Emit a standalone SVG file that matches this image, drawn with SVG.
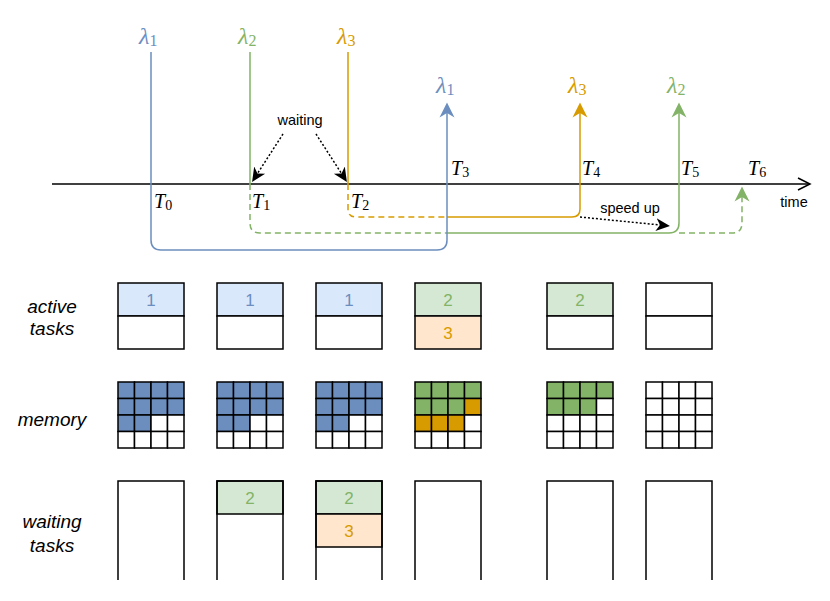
<svg xmlns="http://www.w3.org/2000/svg" width="830" height="601" viewBox="0 0 830 601">
<style>
.lam{font-family:"Liberation Serif",serif;font-style:italic;font-size:24px}
.sub{font-style:normal;font-size:16px}
.T{font-family:"Liberation Serif",serif;font-style:italic;font-size:20px;fill:#000}
.tsub{font-style:normal;font-size:14px}
.lbl{font-family:"Liberation Sans",Arial,sans-serif;font-size:14.5px;fill:#000}
.row{font-family:"Liberation Sans",Arial,sans-serif;font-style:italic;font-size:19px;fill:#000;text-anchor:middle}
.num{font-family:"Liberation Sans",Arial,sans-serif;font-size:17px;text-anchor:middle}
.box{stroke:#000;stroke-width:1.5}
.w{fill:#fff}
.b{fill:#6c8ebf}
.g{fill:#82b366}
.o{fill:#d79b00}
.lb{fill:#dae8fc}
.lg{fill:#d5e8d4}
.lo{fill:#ffe6cc}
.ln{fill:none;stroke-width:1.5}
.dash{stroke-dasharray:6 4}
.dot{stroke-dasharray:2 2;stroke:#000;fill:none;stroke-width:1.5}
</style>
<defs>
<marker id="aB" markerUnits="userSpaceOnUse" markerWidth="16" markerHeight="16" viewBox="0 0 16 16" refX="4.5" refY="8" orient="auto"><path d="M0,0.5 L15,8 L0,15.5 L4.5,8 Z" fill="#6c8ebf"/></marker>
<marker id="aG" markerUnits="userSpaceOnUse" markerWidth="16" markerHeight="16" viewBox="0 0 16 16" refX="4.5" refY="8" orient="auto"><path d="M0,0.5 L15,8 L0,15.5 L4.5,8 Z" fill="#82b366"/></marker>
<marker id="aO" markerUnits="userSpaceOnUse" markerWidth="16" markerHeight="16" viewBox="0 0 16 16" refX="4.5" refY="8" orient="auto"><path d="M0,0.5 L15,8 L0,15.5 L4.5,8 Z" fill="#d79b00"/></marker>
<marker id="aK" markerUnits="userSpaceOnUse" markerWidth="16" markerHeight="16" viewBox="0 0 16 16" refX="4" refY="8" orient="auto"><path d="M0,1.5 L14,8 L0,14.5 L4,8 Z" fill="#000"/></marker>
</defs>

<g id="connectors">
  <path d="M52,184 H809" class="ln" stroke="#000"/>
  <path d="M798,178 L810,184 L798,190" class="ln" stroke="#000"/>
  <path d="M348,52 V184" class="ln" stroke="#d79b00"/>
  <path d="M348,184 V209 Q348,217 356,217 H447" class="ln dash" stroke="#d79b00"/>
  <path d="M447,217 H572 Q580,217 580,209 V113" class="ln" stroke="#d79b00" marker-end="url(#aO)"/>
  <path d="M250,52 V184" class="ln" stroke="#82b366"/>
  <path d="M250,184 V223 Q250,233 260,233 H447" class="ln dash" stroke="#82b366"/>
  <path d="M447,233 H669 Q679,233 679,223 V113" class="ln" stroke="#82b366" marker-end="url(#aG)"/>
  <path d="M679,233 H732 Q742,233 742,223 V197" class="ln dash" stroke="#82b366" marker-end="url(#aG)"/>
  <path d="M151,52 V240 Q151,250 161,250 H437 Q447,250 447,240 V113" class="ln" stroke="#6c8ebf" marker-end="url(#aB)"/>
  <path d="M283,134 L257.5,173.5" class="dot" marker-end="url(#aK)"/>
  <path d="M316,134 L341.5,173.5" class="dot" marker-end="url(#aK)"/>
  <path d="M580,217 L660,225" class="dot" marker-end="url(#aK)"/>
</g>

<g id="labels-top">
  <text class="lam" x="139" y="44" fill="#6c8ebf">λ<tspan class="sub" dy="2">1</tspan></text>
  <text class="lam" x="238" y="44" fill="#82b366">λ<tspan class="sub" dy="2">2</tspan></text>
  <text class="lam" x="337" y="44" fill="#d79b00">λ<tspan class="sub" dy="2">3</tspan></text>
  <text class="lam" x="436" y="93" fill="#6c8ebf">λ<tspan class="sub" dy="2">1</tspan></text>
  <text class="lam" x="568" y="93" fill="#d79b00">λ<tspan class="sub" dy="2">3</tspan></text>
  <text class="lam" x="667" y="93" fill="#82b366">λ<tspan class="sub" dy="2">2</tspan></text>
  <text class="T" x="154" y="208">T<tspan class="tsub" dy="2">0</tspan></text>
  <text class="T" x="252" y="208">T<tspan class="tsub" dy="2">1</tspan></text>
  <text class="T" x="351" y="208">T<tspan class="tsub" dy="2">2</tspan></text>
  <text class="T" x="451" y="175">T<tspan class="tsub" dy="2">3</tspan></text>
  <text class="T" x="582" y="175">T<tspan class="tsub" dy="2">4</tspan></text>
  <text class="T" x="681" y="175">T<tspan class="tsub" dy="2">5</tspan></text>
  <text class="T" x="748" y="175">T<tspan class="tsub" dy="2">6</tspan></text>
  <text class="lbl" x="300" y="125" text-anchor="middle">waiting</text>
  <text class="lbl" x="630" y="213" text-anchor="middle">speed up</text>
  <text class="lbl" x="794" y="207" text-anchor="middle">time</text>
</g>

<g id="row-labels">
  <text class="row" x="52" y="313">active</text>
  <text class="row" x="52" y="335">tasks</text>
  <text class="row" x="52" y="426">memory</text>
  <text class="row" x="52" y="528">waiting</text>
  <text class="row" x="52" y="552">tasks</text>
</g>

<g id="active-1"><rect class="box lb" x="118" y="283" width="66" height="33"/><rect class="box w" x="118" y="316" width="66" height="33"/><text class="num" x="151" y="305.5" fill="#6c8ebf">1</text></g>
<g id="active-2"><rect class="box lb" x="217" y="283" width="66" height="33"/><rect class="box w" x="217" y="316" width="66" height="33"/><text class="num" x="250" y="305.5" fill="#6c8ebf">1</text></g>
<g id="active-3"><rect class="box lb" x="316" y="283" width="66" height="33"/><rect class="box w" x="316" y="316" width="66" height="33"/><text class="num" x="349" y="305.5" fill="#6c8ebf">1</text></g>
<g id="active-4"><rect class="box lg" x="415" y="283" width="66" height="33"/><rect class="box lo" x="415" y="316" width="66" height="33"/><text class="num" x="448" y="305.5" fill="#82b366">2</text><text class="num" x="448" y="338.5" fill="#d79b00">3</text></g>
<g id="active-5"><rect class="box lg" x="547" y="283" width="66" height="33"/><rect class="box w" x="547" y="316" width="66" height="33"/><text class="num" x="580" y="305.5" fill="#82b366">2</text></g>
<g id="active-6"><rect class="box w" x="646" y="283" width="66" height="33"/><rect class="box w" x="646" y="316" width="66" height="33"/></g>

<g id="memory-1">
  <rect class="box b" x="118" y="382" width="16.5" height="16.5"/><rect class="box b" x="134.5" y="382" width="16.5" height="16.5"/><rect class="box b" x="151" y="382" width="16.5" height="16.5"/><rect class="box b" x="167.5" y="382" width="16.5" height="16.5"/>
  <rect class="box b" x="118" y="398.5" width="16.5" height="16.5"/><rect class="box b" x="134.5" y="398.5" width="16.5" height="16.5"/><rect class="box b" x="151" y="398.5" width="16.5" height="16.5"/><rect class="box b" x="167.5" y="398.5" width="16.5" height="16.5"/>
  <rect class="box b" x="118" y="415" width="16.5" height="16.5"/><rect class="box b" x="134.5" y="415" width="16.5" height="16.5"/><rect class="box w" x="151" y="415" width="16.5" height="16.5"/><rect class="box w" x="167.5" y="415" width="16.5" height="16.5"/>
  <rect class="box w" x="118" y="431.5" width="16.5" height="16.5"/><rect class="box w" x="134.5" y="431.5" width="16.5" height="16.5"/><rect class="box w" x="151" y="431.5" width="16.5" height="16.5"/><rect class="box w" x="167.5" y="431.5" width="16.5" height="16.5"/>
</g>
<g id="memory-2">
  <rect class="box b" x="217" y="382" width="16.5" height="16.5"/><rect class="box b" x="233.5" y="382" width="16.5" height="16.5"/><rect class="box b" x="250" y="382" width="16.5" height="16.5"/><rect class="box b" x="266.5" y="382" width="16.5" height="16.5"/>
  <rect class="box b" x="217" y="398.5" width="16.5" height="16.5"/><rect class="box b" x="233.5" y="398.5" width="16.5" height="16.5"/><rect class="box b" x="250" y="398.5" width="16.5" height="16.5"/><rect class="box b" x="266.5" y="398.5" width="16.5" height="16.5"/>
  <rect class="box b" x="217" y="415" width="16.5" height="16.5"/><rect class="box b" x="233.5" y="415" width="16.5" height="16.5"/><rect class="box w" x="250" y="415" width="16.5" height="16.5"/><rect class="box w" x="266.5" y="415" width="16.5" height="16.5"/>
  <rect class="box w" x="217" y="431.5" width="16.5" height="16.5"/><rect class="box w" x="233.5" y="431.5" width="16.5" height="16.5"/><rect class="box w" x="250" y="431.5" width="16.5" height="16.5"/><rect class="box w" x="266.5" y="431.5" width="16.5" height="16.5"/>
</g>
<g id="memory-3">
  <rect class="box b" x="316" y="382" width="16.5" height="16.5"/><rect class="box b" x="332.5" y="382" width="16.5" height="16.5"/><rect class="box b" x="349" y="382" width="16.5" height="16.5"/><rect class="box b" x="365.5" y="382" width="16.5" height="16.5"/>
  <rect class="box b" x="316" y="398.5" width="16.5" height="16.5"/><rect class="box b" x="332.5" y="398.5" width="16.5" height="16.5"/><rect class="box b" x="349" y="398.5" width="16.5" height="16.5"/><rect class="box b" x="365.5" y="398.5" width="16.5" height="16.5"/>
  <rect class="box b" x="316" y="415" width="16.5" height="16.5"/><rect class="box b" x="332.5" y="415" width="16.5" height="16.5"/><rect class="box w" x="349" y="415" width="16.5" height="16.5"/><rect class="box w" x="365.5" y="415" width="16.5" height="16.5"/>
  <rect class="box w" x="316" y="431.5" width="16.5" height="16.5"/><rect class="box w" x="332.5" y="431.5" width="16.5" height="16.5"/><rect class="box w" x="349" y="431.5" width="16.5" height="16.5"/><rect class="box w" x="365.5" y="431.5" width="16.5" height="16.5"/>
</g>
<g id="memory-4">
  <rect class="box g" x="415" y="382" width="16.5" height="16.5"/><rect class="box g" x="431.5" y="382" width="16.5" height="16.5"/><rect class="box g" x="448" y="382" width="16.5" height="16.5"/><rect class="box g" x="464.5" y="382" width="16.5" height="16.5"/>
  <rect class="box g" x="415" y="398.5" width="16.5" height="16.5"/><rect class="box g" x="431.5" y="398.5" width="16.5" height="16.5"/><rect class="box g" x="448" y="398.5" width="16.5" height="16.5"/><rect class="box o" x="464.5" y="398.5" width="16.5" height="16.5"/>
  <rect class="box o" x="415" y="415" width="16.5" height="16.5"/><rect class="box o" x="431.5" y="415" width="16.5" height="16.5"/><rect class="box o" x="448" y="415" width="16.5" height="16.5"/><rect class="box w" x="464.5" y="415" width="16.5" height="16.5"/>
  <rect class="box w" x="415" y="431.5" width="16.5" height="16.5"/><rect class="box w" x="431.5" y="431.5" width="16.5" height="16.5"/><rect class="box w" x="448" y="431.5" width="16.5" height="16.5"/><rect class="box w" x="464.5" y="431.5" width="16.5" height="16.5"/>
</g>
<g id="memory-5">
  <rect class="box g" x="547" y="382" width="16.5" height="16.5"/><rect class="box g" x="563.5" y="382" width="16.5" height="16.5"/><rect class="box g" x="580" y="382" width="16.5" height="16.5"/><rect class="box g" x="596.5" y="382" width="16.5" height="16.5"/>
  <rect class="box g" x="547" y="398.5" width="16.5" height="16.5"/><rect class="box g" x="563.5" y="398.5" width="16.5" height="16.5"/><rect class="box g" x="580" y="398.5" width="16.5" height="16.5"/><rect class="box w" x="596.5" y="398.5" width="16.5" height="16.5"/>
  <rect class="box w" x="547" y="415" width="16.5" height="16.5"/><rect class="box w" x="563.5" y="415" width="16.5" height="16.5"/><rect class="box w" x="580" y="415" width="16.5" height="16.5"/><rect class="box w" x="596.5" y="415" width="16.5" height="16.5"/>
  <rect class="box w" x="547" y="431.5" width="16.5" height="16.5"/><rect class="box w" x="563.5" y="431.5" width="16.5" height="16.5"/><rect class="box w" x="580" y="431.5" width="16.5" height="16.5"/><rect class="box w" x="596.5" y="431.5" width="16.5" height="16.5"/>
</g>
<g id="memory-6">
  <rect class="box w" x="646" y="382" width="16.5" height="16.5"/><rect class="box w" x="662.5" y="382" width="16.5" height="16.5"/><rect class="box w" x="679" y="382" width="16.5" height="16.5"/><rect class="box w" x="695.5" y="382" width="16.5" height="16.5"/>
  <rect class="box w" x="646" y="398.5" width="16.5" height="16.5"/><rect class="box w" x="662.5" y="398.5" width="16.5" height="16.5"/><rect class="box w" x="679" y="398.5" width="16.5" height="16.5"/><rect class="box w" x="695.5" y="398.5" width="16.5" height="16.5"/>
  <rect class="box w" x="646" y="415" width="16.5" height="16.5"/><rect class="box w" x="662.5" y="415" width="16.5" height="16.5"/><rect class="box w" x="679" y="415" width="16.5" height="16.5"/><rect class="box w" x="695.5" y="415" width="16.5" height="16.5"/>
  <rect class="box w" x="646" y="431.5" width="16.5" height="16.5"/><rect class="box w" x="662.5" y="431.5" width="16.5" height="16.5"/><rect class="box w" x="679" y="431.5" width="16.5" height="16.5"/><rect class="box w" x="695.5" y="431.5" width="16.5" height="16.5"/>
</g>

<g id="waiting-1"><path d="M118,580 V481 H184 V580" class="ln" stroke="#000"/></g>
<g id="waiting-2"><rect class="box lg" x="217" y="481" width="66" height="33"/><path d="M217,580 V481 H283 V580" class="ln" stroke="#000"/><text class="num" x="250" y="503.5" fill="#82b366">2</text></g>
<g id="waiting-3"><rect class="box lg" x="316" y="481" width="66" height="33"/><rect class="box lo" x="316" y="514" width="66" height="33"/><path d="M316,580 V481 H382 V580" class="ln" stroke="#000"/><text class="num" x="349" y="503.5" fill="#82b366">2</text><text class="num" x="349" y="536.5" fill="#d79b00">3</text></g>
<g id="waiting-4"><path d="M415,580 V481 H481 V580" class="ln" stroke="#000"/></g>
<g id="waiting-5"><path d="M547,580 V481 H613 V580" class="ln" stroke="#000"/></g>
<g id="waiting-6"><path d="M646,580 V481 H712 V580" class="ln" stroke="#000"/></g>
</svg>
